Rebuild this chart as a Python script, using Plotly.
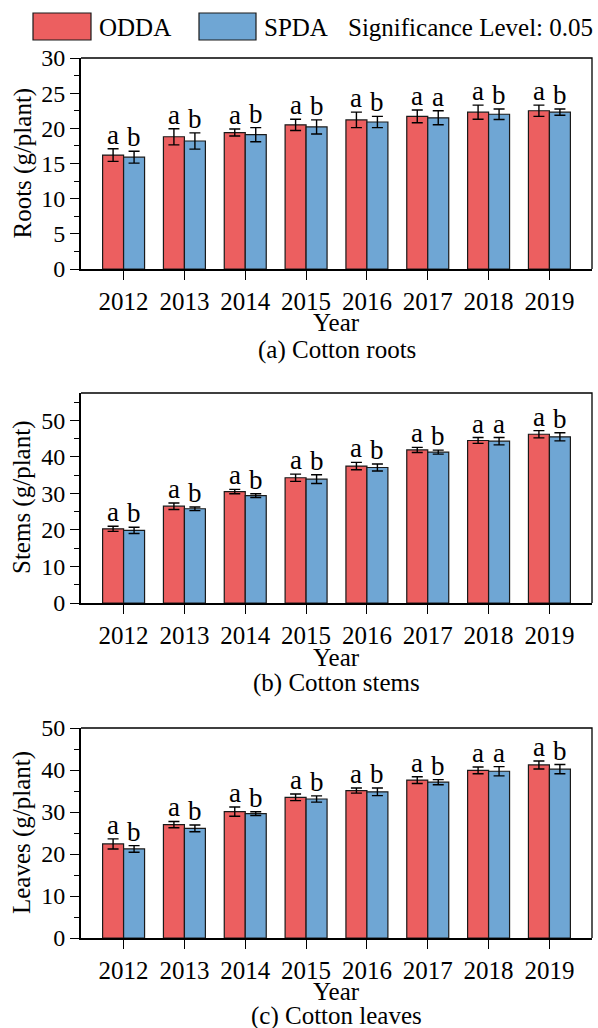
import plotly.graph_objects as go

# ---- data -------------------------------------------------------------
years = ["2012", "2013", "2014", "2015", "2016", "2017", "2018", "2019"]

roots_odda = [16.2, 18.8, 19.4, 20.5, 21.2, 21.7, 22.3, 22.5]
roots_odda_err = [0.9, 1.15, 0.5, 0.8, 1.1, 0.9, 1.0, 0.8]
roots_spda = [15.9, 18.2, 19.1, 20.2, 20.9, 21.5, 22.0, 22.3]
roots_spda_err = [0.85, 1.15, 1.0, 1.0, 0.8, 1.0, 0.75, 0.45]
roots_sig_odda = ["a", "a", "a", "a", "a", "a", "a", "a"]
roots_sig_spda = ["b", "b", "b", "b", "b", "a", "b", "b"]

stems_odda = [20.3, 26.5, 30.5, 34.3, 37.5, 41.9, 44.5, 46.2]
stems_odda_err = [0.7, 0.9, 0.6, 1.0, 1.0, 0.7, 0.8, 1.0]
stems_spda = [19.9, 25.8, 29.4, 33.9, 37.1, 41.3, 44.3, 45.5]
stems_spda_err = [0.85, 0.5, 0.5, 1.2, 0.95, 0.55, 1.0, 1.1]
stems_sig_odda = ["a", "a", "a", "a", "a", "a", "a", "a"]
stems_sig_spda = ["b", "b", "b", "b", "b", "b", "a", "b"]

leaves_odda = [22.4, 27.0, 30.1, 33.5, 35.1, 37.6, 39.9, 41.2]
leaves_odda_err = [1.2, 0.75, 1.1, 0.8, 0.6, 0.8, 0.8, 0.95]
leaves_spda = [21.2, 26.1, 29.6, 33.1, 34.8, 37.1, 39.7, 40.2]
leaves_spda_err = [0.8, 0.8, 0.45, 0.75, 0.9, 0.6, 1.1, 1.1]
leaves_sig_odda = ["a", "a", "a", "a", "a", "a", "a", "a"]
leaves_sig_spda = ["b", "b", "b", "b", "b", "b", "a", "b"]

y_titles = ["Roots (g/plant)", "Stems (g/plant)", "Leaves (g/plant)"]
captions = ["(a) Cotton roots", "(b) Cotton stems", "(c) Cotton leaves"]
y_ranges = [[0, 30], [0, 57.5], [0, 50]]
y_dticks = [5, 10, 10]

# ---- style ------------------------------------------------------------
W, H = 598, 1028
FONT = "'Liberation Serif', 'Times New Roman', 'DejaVu Serif', serif"
RED = "#EC5F60"
BLUE = "#6FA6D4"
EDGE = "#1a1a1a"
FS = 25
FS_SIG = 27

# panel geometry in pixels: (top, bottom) of each plot area,
# plus offsets below the plot for the "Year" title and the caption
panels_px = [(58, 269), (393, 603), (728, 938)]
year_off = [53, 54, 53]
cap_off = [81, 80, 78]
x_px = (81, 592)


def py(px):
    """pixel row -> paper y"""
    return 1 - px / H


def px_x(px):
    return px / W


panels = [
    (roots_odda, roots_odda_err, roots_spda, roots_spda_err, roots_sig_odda, roots_sig_spda),
    (stems_odda, stems_odda_err, stems_spda, stems_spda_err, stems_sig_odda, stems_sig_spda),
    (leaves_odda, leaves_odda_err, leaves_spda, leaves_spda_err, leaves_sig_odda, leaves_sig_spda),
]

fig = go.Figure()
annotations = []
shapes = []
layout_axes = {}

for i, (o, oe, s, se, so, ss) in enumerate(panels):
    n = i + 1
    xa = "x" if n == 1 else f"x{n}"
    ya = "y" if n == 1 else f"y{n}"
    for vals, errs, color, name in [(o, oe, RED, "ODDA"), (s, se, BLUE, "SPDA")]:
        fig.add_trace(go.Bar(
            x=years, y=vals, name=name, showlegend=False,
            xaxis=xa, yaxis=ya,
            marker=dict(color=color, line=dict(color=EDGE, width=1.2)),
            error_y=dict(type="data", array=errs, visible=True,
                         color="black", thickness=1.4, width=5.5),
        ))
    # significance letters above the error bars (x given as category index)
    for k in range(len(years)):
        for vals, errs, letters, shift in [(o, oe, so, -10.5), (s, se, ss, 10.5)]:
            annotations.append(dict(
                x=k, y=vals[k] + errs[k], xref=xa, yref=ya,
                text=letters[k], showarrow=False, xshift=shift, yshift=-3,
                xanchor="center", yanchor="bottom",
                font=dict(family=FONT, size=FS_SIG, color="black"),
            ))
    top, bot = panels_px[i]
    sfx = "" if n == 1 else str(n)
    layout_axes["xaxis" + sfx] = dict(
        domain=[px_x(x_px[0]), px_x(x_px[1])], anchor=ya,
        range=[-0.7, 7.7], type="category",
        showline=True, linecolor="black", linewidth=2,
        ticks="outside", ticklen=9, tickwidth=1.4, tickcolor="black",
        tickfont=dict(family=FONT, size=FS, color="black"),
        showgrid=False, zeroline=False, automargin=False,
    )
    layout_axes["yaxis" + sfx] = dict(
        domain=[py(bot), py(top)], anchor=xa,
        range=y_ranges[i], dtick=y_dticks[i], tick0=0,
        showline=True, linecolor="black", linewidth=2,
        ticks="outside", ticklen=9, tickwidth=1.4, tickcolor="black",
        minor=dict(dtick=y_dticks[i] / 2, ticks="outside", ticklen=5,
                   tickwidth=1.2, tickcolor="black"),
        tickfont=dict(family=FONT, size=FS - 1, color="black"),
        showgrid=False, zeroline=False, automargin=False,
    )
    # thin frame on the top and right sides of the plot area
    shapes.append(dict(type="path", xref=f"{xa} domain", yref=f"{ya} domain",
                       path="M 0 1 L 1 1 L 1 0", layer="above",
                       line=dict(color="black", width=1.3)))
    # axis titles and panel caption
    annotations.append(dict(
        x=px_x(22), y=py((top + bot) / 2), xref="paper", yref="paper",
        text=y_titles[i], textangle=-90, showarrow=False,
        xanchor="center", yanchor="middle",
        font=dict(family=FONT, size=FS, color="black"),
    ))
    annotations.append(dict(
        x=px_x((x_px[0] + x_px[1]) / 2), y=py(bot + year_off[i]),
        xref="paper", yref="paper",
        text="Year", showarrow=False, xanchor="center", yanchor="middle",
        font=dict(family=FONT, size=FS, color="black"),
    ))
    annotations.append(dict(
        x=px_x((x_px[0] + x_px[1]) / 2), y=py(bot + cap_off[i]),
        xref="paper", yref="paper",
        text=captions[i], showarrow=False, xanchor="center", yanchor="middle",
        font=dict(family=FONT, size=FS, color="black"),
    ))

# legend drawn as swatches + labels along the top
for x0, x1, col in [(33, 91, RED), (199, 256, BLUE)]:
    shapes.append(dict(type="rect", xref="paper", yref="paper",
                       x0=px_x(x0), x1=px_x(x1), y0=py(40), y1=py(13),
                       fillcolor=col, line=dict(color=EDGE, width=1.2)))
for x0, txt in [(97, "ODDA"), (262, "SPDA"), (346, "Significance Level: 0.05")]:
    annotations.append(dict(
        x=px_x(x0), y=py(27), xref="paper", yref="paper", text=txt,
        showarrow=False, xanchor="left", yanchor="middle",
        font=dict(family=FONT, size=FS, color="black"),
    ))

fig.update_layout(
    width=W, height=H, margin=dict(l=0, r=0, t=0, b=0),
    barmode="group", bargap=0.31, bargroupgap=0,
    plot_bgcolor="white", paper_bgcolor="white",
    font=dict(family=FONT, size=FS, color="black"),
    annotations=annotations, shapes=shapes, showlegend=False,
    **layout_axes,
)

fig.write_html("out.html")
